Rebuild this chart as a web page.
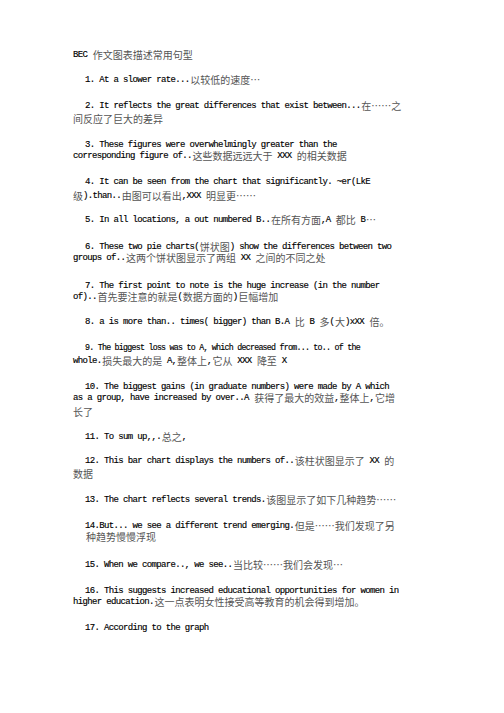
<!DOCTYPE html>
<html>
<head>
<meta charset="utf-8">
<script src="https://cdn.jsdelivr.net/npm/chart.js@4.4.1/dist/chart.umd.min.js"></script>
<style>
  body { margin: 0; background: #fff; }
  #page { position: relative; width: 504px; height: 713px; overflow: hidden; background: #fff; }
  .ln { position: absolute; white-space: pre; line-height: 10px; height: 10px; }
  .en, .zh { display: inline-block; white-space: pre; line-height: 10px; height: 10px; vertical-align: top; }
  .en { font-family: "Liberation Mono", "DejaVu Sans Mono", monospace; font-size: 9px; letter-spacing: -0.65px; margin-right: 0.65px; color: #000; -webkit-text-stroke: 0.15px #000; }
  .zh { font-family: "Noto Sans CJK SC", sans-serif; font-size: 10px; color: #555; }
  .small .en { font-size: 8.3px; letter-spacing: -0.75px; margin-right: 0.75px; }
</style>
</head>
<body>
<div id="page"></div>
<script>
// the page is a list of sentences, no chart values in it
const title = "BEC 作文图表描述常用句型";

const sentences = [
  ["1. At a slower rate...以较低的速度…"],
  ["2. It reflects the great differences that exist between...在……之", "间反应了巨大的差异"],
  ["3. These figures were overwhelmingly greater than the", "corresponding figure of..这些数据远远大于 XXX 的相关数据"],
  ["4. It can be seen from the chart that significantly. ~er(LkE", "级).than..由图可以看出,XXX 明显更……"],
  ["5. In all locations, a out numbered B..在所有方面,A 都比 B…"],
  ["6. These two pie charts(饼状图) show the differences between two", "groups of..这两个饼状图显示了两组 XX 之间的不同之处"],
  ["7. The first point to note is the huge increase (in the number", "of)..首先要注意的就是(数据方面的)巨幅增加"],
  ["8. a is more than.. times( bigger) than B.A 比 B 多(大)xXX 倍。"],
  ["9. The biggest loss was to A, which decreased from... to.. of the", "whole.损失最大的是 A,整体上,它从 XXX 降至 X"],
  ["10. The biggest gains (in graduate numbers) were made by A which", "as a group, have increased by over..A 获得了最大的效益,整体上,它增", "长了"],
  ["11. To sum up,,.总之,"],
  ["12. This bar chart displays the numbers of..该柱状图显示了 XX 的", "数据"],
  ["13. The chart reflects several trends.该图显示了如下几种趋势……"],
  ["14.But... we see a different trend emerging.但是……我们发现了另", "种趋势慢慢浮现"],
  ["15. When we compare.., we see..当比较……我们会发现…"],
  ["16. This suggests increased educational opportunities for women in", "higher education.这一点表明女性接受高等教育的机会得到增加。"],
  ["17. According to the graph"]
];

// layout: centre y of each line, same shape as sentences
const lineY = [
  [80], [106, 119], [145, 156], [182, 196], [220], [247, 258], [286, 297],
  [322], [348, 361], [387, 398, 412], [437], [461, 474], [500], [526, 537],
  [565], [591, 602], [628]
];
const titleY = 55;
const firstX = 85;
const wrapX = 73;

const cjk = /([\u2026\u3000-\u303f\u4e00-\u9fff\uff00-\uffef]+)/;

function addLine(text, x, y, extra) {
  const div = document.createElement('div');
  div.className = 'ln' + (extra ? ' ' + extra : '');
  div.style.left = x + 'px';
  div.style.top = (y - 5) + 'px';
  text.split(cjk).forEach(function (part) {
    if (!part) return;
    const span = document.createElement('span');
    span.className = cjk.test(part) ? 'zh' : 'en';
    span.textContent = part;
    div.appendChild(span);
  });
  document.getElementById('page').appendChild(div);
}

addLine(title, wrapX, titleY);
sentences.forEach(function (lines, i) {
  lines.forEach(function (line, j) {
    let x = j === 0 ? firstX : wrapX;
    if (i === 13 && j === 1) x = firstX + 1;
    const extra = (i === 8 && j === 0) ? 'small' : '';
    addLine(line, x, lineY[i][j], extra);
  });
});
</script>
</body>
</html>
